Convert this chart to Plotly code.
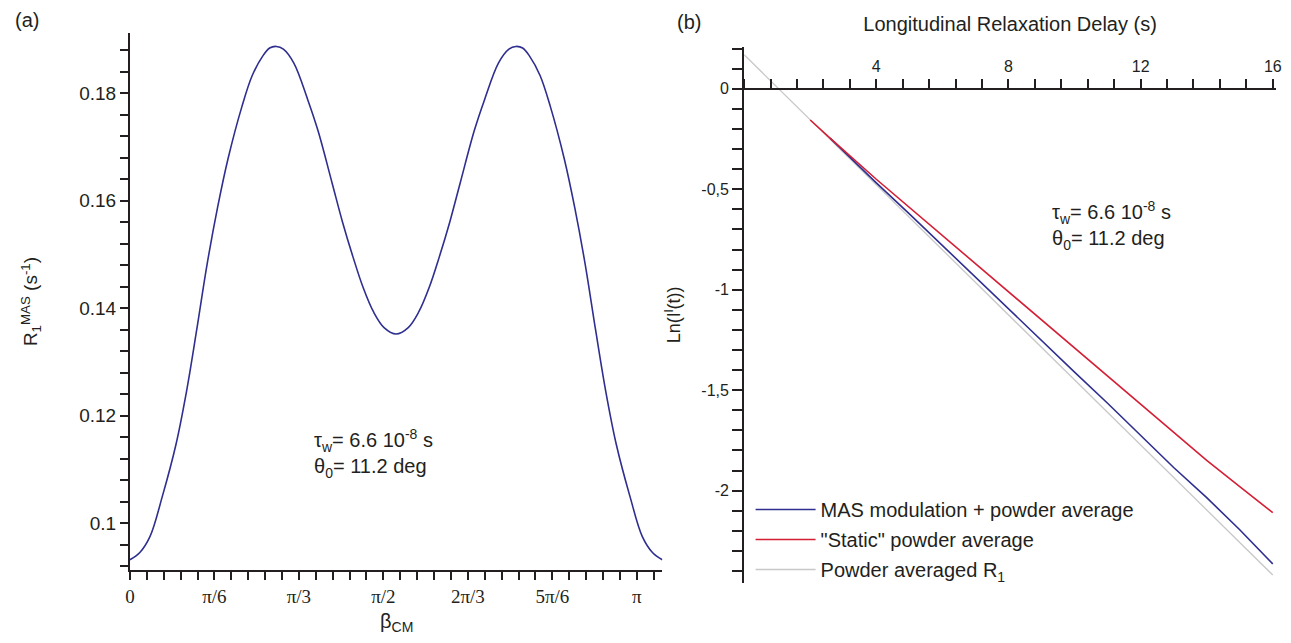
import numpy as np
import plotly.graph_objects as go

# ---------------- data (a) ----------------
beta_cm = [0.0, 0.06, 0.124, 0.2, 0.285, 0.35, 0.414, 0.479, 0.543, 0.608, 0.694, 0.758,
           0.823, 0.866, 0.908, 0.951, 1.016, 1.102, 1.166, 1.253, 1.317, 1.382, 1.446,
           1.51, 1.575, 1.65,
           1.725, 1.79, 1.854, 1.918, 1.983, 2.047, 2.134, 2.198, 2.284, 2.349, 2.392,
           2.434, 2.477, 2.542, 2.606, 2.692, 2.757, 2.821, 2.886, 2.95, 3.015, 3.1,
           3.176, 3.24, 3.3]
r1_mas = [0.0932, 0.0945, 0.0975, 0.1049, 0.1146, 0.1244, 0.1360, 0.1483, 0.1587, 0.1678,
          0.1775, 0.1833, 0.1869, 0.1884, 0.1887, 0.1882, 0.1856, 0.1788, 0.1730, 0.1633,
          0.1561, 0.1496, 0.1438, 0.1393, 0.1364, 0.1352,
          0.1364, 0.1393, 0.1438, 0.1496, 0.1561, 0.1633, 0.1730, 0.1788, 0.1856, 0.1882,
          0.1887, 0.1884, 0.1869, 0.1833, 0.1775, 0.1678, 0.1587, 0.1483, 0.1360, 0.1244,
          0.1146, 0.1049, 0.0975, 0.0945, 0.0932]
beta_tick_labels = ["0", "π/6", "π/3", "π/2", "2π/3", "5π/6", "π"]

# ---------------- data (b) ----------------
t_gray = [0.0, 16.0]
ln_gray = [0.17, -2.42]
t_blue = [2.6, 4, 5, 6, 7, 8, 9, 10, 11, 12, 13, 14, 15, 16]
ln_blue = [-0.245, -0.468, -0.622, -0.780, -0.940, -1.095, -1.255, -1.410, -1.565, -1.725,
           -1.885, -2.035, -2.195, -2.365]
t_red = [2.0, 2.6, 4, 5, 6, 7, 8, 9, 10, 11, 12, 13, 14, 15, 16]
ln_red = [-0.155, -0.245, -0.45, -0.59, -0.73, -0.87, -1.01, -1.15, -1.29, -1.43, -1.57,
          -1.71, -1.85, -1.98, -2.11]
t_tick_vals = [4, 8, 12, 16]
ln_tick_vals = [0, -0.5, -1, -1.5, -2]
ln_tick_labels = ["0", "-0,5", "-1", "-1,5", "-2"]

W, H = 1291, 643
BLUE = "#2e2f8f"
RED = "#d41f35"
GRAY = "#c8c8c8"
AX = "#231f20"
SANS = "Liberation Sans, Arial, sans-serif"
SERIF = "Liberation Serif, Times New Roman, serif"

fig = go.Figure()
fig.add_trace(go.Scatter(x=beta_cm, y=r1_mas, mode="lines", line=dict(color=BLUE, width=1.6, shape="spline"),
                         showlegend=False, xaxis="x", yaxis="y"))

fig.add_trace(go.Scatter(x=t_gray, y=ln_gray, mode="lines", line=dict(color=GRAY, width=1.3),
                         name="Powder averaged R<sub>1</sub>", legendrank=3, legendgroup="g3",
                         xaxis="x2", yaxis="y2"))
fig.add_trace(go.Scatter(x=t_blue, y=ln_blue, mode="lines", line=dict(color=BLUE, width=1.6),
                         name="MAS modulation + powder average", legendrank=1, legendgroup="g1",
                         xaxis="x2", yaxis="y2"))
fig.add_trace(go.Scatter(x=t_red, y=ln_red, mode="lines", line=dict(color=RED, width=1.6),
                         name="\"Static\" powder average", legendrank=2, legendgroup="g2",
                         xaxis="x2", yaxis="y2"))

# domains (paper fractions)
xa_dom = [126 / W, 663 / W]
ya_dom = [(H - 570) / H, (H - 33) / H]
xb_dom = [745.5 / W, 1282 / W]
yb_dom = [(H - 583) / H, (H - 46.7) / H]
yb_range = [-2.46, 0.21]
zero_pos = yb_dom[0] + (0 - yb_range[0]) / (yb_range[1] - yb_range[0]) * (yb_dom[1] - yb_dom[0])

fig.update_layout(
    width=W, height=H,
    margin=dict(l=0, r=0, t=0, b=0),
    paper_bgcolor="white", plot_bgcolor="white",
    font=dict(family=SANS, size=16, color="#231f20"),
    xaxis=dict(domain=xa_dom, range=[0, 3.3], anchor="y",
               tickmode="array", tickvals=[k * np.pi / 6 for k in range(7)], ticktext=beta_tick_labels,
               ticks="outside", ticklen=8, tickwidth=1.5, tickcolor=AX,
               minor=dict(tickmode="linear", tick0=0, dtick=np.pi / 30, ticks="outside", ticklen=8,
                          tickwidth=1.5, tickcolor=AX, showgrid=False),
               showline=True, linecolor=AX, linewidth=2, showgrid=False, zeroline=False,
               tickfont=dict(family=SERIF, size=19)),
    yaxis=dict(domain=ya_dom, range=[0.0913, 0.1912], anchor="x",
               tickmode="linear", tick0=0.1, dtick=0.02,
               ticks="outside", ticklen=8, tickwidth=1.5, tickcolor=AX,
               minor=dict(tickmode="linear", tick0=0.1, dtick=0.004, ticks="outside", ticklen=8,
                          tickwidth=1.5, tickcolor=AX, showgrid=False),
               showline=True, linecolor=AX, linewidth=2, showgrid=False, zeroline=False,
               tickfont=dict(size=19),
               title=dict(text="R<sub>1</sub><sup>MAS</sup> (s<sup>-1</sup>)", font=dict(size=19), standoff=36)),
    xaxis2=dict(domain=xb_dom, range=[0, 16.1], anchor="free", position=zero_pos, side="top",
                tickmode="array", tickvals=t_tick_vals,
                ticks="outside", ticklen=9, tickwidth=1.5, tickcolor=AX,
                minor=dict(tickmode="linear", tick0=0, dtick=0.8, ticks="outside", ticklen=9,
                           tickwidth=1.5, tickcolor=AX, showgrid=False),
                showline=True, linecolor=AX, linewidth=2, showgrid=False, zeroline=False,
                tickfont=dict(size=16),
                title=dict(text="Longitudinal Relaxation Delay (s)", font=dict(size=20), standoff=20)),
    yaxis2=dict(domain=yb_dom, range=yb_range, anchor="x2",
                tickmode="array", tickvals=ln_tick_vals, ticktext=ln_tick_labels,
                ticks="outside", ticklen=10, tickwidth=1.5, tickcolor=AX,
                minor=dict(tickmode="linear", tick0=0, dtick=0.1, ticks="outside", ticklen=10,
                           tickwidth=1.5, tickcolor=AX, showgrid=False),
                showline=True, linecolor=AX, linewidth=2, showgrid=False, zeroline=False,
                tickfont=dict(size=16),
                title=dict(text="Ln(I<sup>l</sup>(t))", font=dict(size=18), standoff=16)),
    legend=dict(x=752 / W, y=(H - 490) / H, xanchor="left", yanchor="top",
                bgcolor="rgba(0,0,0,0)", font=dict(size=20), tracegroupgap=1,
                itemwidth=60, traceorder="grouped"),
    annotations=[
        dict(text="(a)", x=8 / W, y=(H - 20) / H, xref="paper", yref="paper", xanchor="left",
             yanchor="middle", showarrow=False, font=dict(size=20)),
        dict(text="(b)", x=676 / W, y=(H - 22) / H, xref="paper", yref="paper", xanchor="left",
             yanchor="middle", showarrow=False, font=dict(size=20)),
        dict(text="β<sub>CM</sub>", x=394.5 / W, y=(H - 622) / H, xref="paper", yref="paper",
             xanchor="center", yanchor="middle", showarrow=False, font=dict(size=20)),
        dict(text="τ<sub>w</sub>= 6.6 10<sup>-8</sup> s<br>θ<sub>0</sub>= 11.2 deg", x=310 / W, y=(H - 453) / H,
             xref="paper", yref="paper", xanchor="left", yanchor="middle", align="left",
             showarrow=False, font=dict(size=20)),
        dict(text="τ<sub>w</sub>= 6.6 10<sup>-8</sup> s<br>θ<sub>0</sub>= 11.2 deg", x=1054 / W, y=(H - 226) / H,
             xref="paper", yref="paper", xanchor="left", yanchor="middle", align="left",
             showarrow=False, font=dict(size=20)),
    ],
)

fig.write_html("out.html")
